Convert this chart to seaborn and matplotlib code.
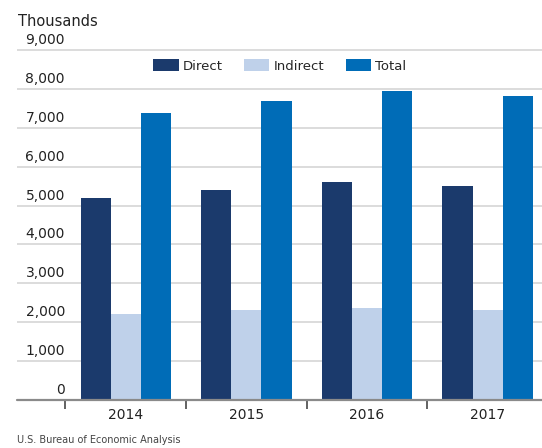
import matplotlib
matplotlib.use("Agg")
import matplotlib.pyplot as plt
import matplotlib.transforms as mtransforms
import pandas as pd
import seaborn as sns

years = ["2014", "2015", "2016", "2017"]
series = ["Direct", "Indirect", "Total"]
direct = [5190, 5390, 5605, 5500]
indirect = [2205, 2305, 2365, 2305]
total = [7390, 7690, 7965, 7830]
y_ticks = [0, 1000, 2000, 3000, 4000, 5000, 6000, 7000, 8000, 9000]
colors = ["#1b3a6c", "#bfd1ea", "#006cb7"]

df = pd.DataFrame({
    "year": years * 3,
    "series": [s for s in series for _ in years],
    "value": direct + indirect + total,
})

sns.set_style("white")
plt.rcParams["font.family"] = ["DejaVu Sans"]

fig = plt.figure(figsize=(5.42, 4.48), dpi=100)
# axes top a little above the 9,000 line so that gridline is not clipped
ax = fig.add_axes([17 / 542, 1 - 399.5 / 448, 525 / 542, 351 / 448])

sns.barplot(data=df, x="year", y="value", hue="series", order=years,
            hue_order=series, palette=colors, width=0.75, linewidth=0,
            saturation=1, ax=ax, zorder=2)

ax.set_xlim(-0.902, 3.451)
ax.set_ylim(0, 9000 * 351 / 349)
for s in ax.spines.values():
    s.set_visible(False)

# gridlines + baseline
ax.set_yticks(y_ticks)
ax.yaxis.grid(True, color="#d6d6d6", lw=1.2)
ax.set_axisbelow(True)
ax.axhline(0, color="#8a8a8a", lw=1.6, zorder=3, clip_on=False)
ax.tick_params(axis="y", length=0, labelleft=False)

# y labels sit above the gridlines
off = mtransforms.ScaledTranslation(0, 0.10, fig.dpi_scale_trans)
for v in y_ticks:
    ax.text((65 - 17) / 525, v, f"{v:,}", transform=ax.get_yaxis_transform() + off,
            ha="right", va="center", fontsize=10, color="#222222")

# x ticks: labels at centers, marks between groups
ax.set_xticks(range(len(years)))
ax.set_xticklabels(years)
ax.set_xticks([-0.5, 0.5, 1.5, 2.5], minor=True)
ax.tick_params(axis="x", which="major", length=0, pad=6, labelsize=10, labelcolor="#222222")
ax.tick_params(axis="x", which="minor", length=6.5, width=1.3, color="#555555", direction="out")
ax.xaxis.set_ticks_position("bottom")
ax.set_xlabel("")
ax.set_ylabel("")

handles, labels = ax.get_legend_handles_labels()
ax.legend(handles, labels, loc="center", bbox_to_anchor=(280 / 542, 1 - 66 / 448),
          bbox_transform=fig.transFigure, ncol=3, frameon=False, fontsize=9.5,
          handlelength=1.9, handleheight=1.0, handletextpad=0.35, columnspacing=1.6)

fig.text(18 / 542, 1 - 26 / 448, "Thousands", fontsize=10.5, color="#222222", va="baseline")
fig.text(17 / 542, 1 - 440 / 448, "U.S. Bureau of Economic Analysis", fontsize=7,
         color="#444444", va="center")

fig.savefig("out.png", dpi=100)
